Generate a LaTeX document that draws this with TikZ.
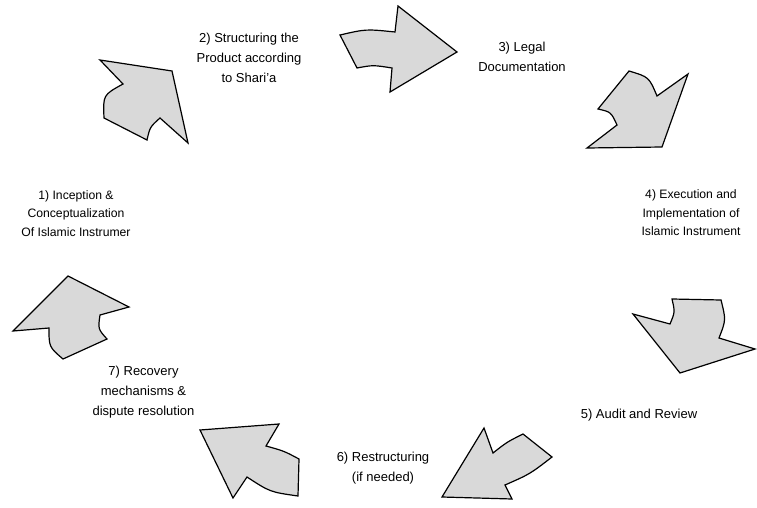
\documentclass[tikz,border=0pt]{standalone}
\usepackage{fontspec}
\setmainfont{Liberation Sans}
\definecolor{arrfill}{HTML}{D9D9D9}
\begin{document}
\begin{tikzpicture}[x=1pt,y=-1pt,
  arr/.style={draw=black, line width=1.2pt, fill=arrfill, line join=miter},
  lbl/.style={align=center, inner sep=0pt, font=\fontsize{13}{20}\selectfont},
  lblsmall/.style={align=center, inner sep=0pt, font=\fontsize{12.2}{18.5}\selectfont}]
\useasboundingbox (0,0) rectangle (757,508);
% arrow 1 (upper left)
\draw[arr] (100,60) -- (172,71) -- (188,143) -- (160,118) .. controls (150,127) .. (147,140)
  -- (104,118) .. controls (103,95) .. (123,84) -- cycle;
% arrow 2 (top)
\draw[arr] (340,35) .. controls (366,29) .. (395,32) -- (398,6) -- (457,52) -- (390,92)
  -- (392,68) .. controls (373,65) .. (357,68) -- cycle;
% arrow 3 (upper right)
\draw[arr] (629,71) .. controls (649,77) .. (657,96) -- (688,74) -- (662,147) -- (587,148)
  -- (617,125) .. controls (611,112) .. (598,109) -- cycle;
% arrow 4 (right)
\draw[arr] (672,299) -- (721,300) .. controls (726,320) .. (719,338) -- (755,349) -- (680,373)
  -- (633,314) -- (670,324) .. controls (675,312) .. (672,299) -- cycle;
% arrow 5 (lower right)
\draw[arr] (484,428) -- (493,453) .. controls (507,442) .. (523,434) -- (552,457)
  .. controls (530,474) .. (505,485) -- (512,499) -- (442,497) -- cycle;
% arrow 6 (bottom left)
\draw[arr] (200,430) -- (279,424) -- (266,446) .. controls (284,451) .. (299,459) -- (298,496)
  .. controls (270,492) .. (247,477) -- (233,498) -- cycle;
% arrow 7 (left)
\draw[arr] (68,276) -- (129,307) -- (100,315) .. controls (98,329) .. (107,339) -- (63,359)
  .. controls (49,347) .. (49,328) -- (13,331) -- cycle;
% labels
\node[lblsmall] (t1) at (76,213.5) {1) Inception \&\\Conceptualization\\Of Islamic Instrumer};
\node[lbl] (t2) at (249,58) {2) Structuring the\\Product according\\to Shari’a};
\node[lbl] (t3) at (522,57) {3) Legal\\Documentation};
\node[lblsmall] (t4) at (691,213) {4) Execution and\\Implementation of\\Islamic Instrument};
\node[lbl] (t5) at (639,415) {5) Audit and Review};
\node[lbl] (t6) at (383,468) {6) Restructuring\\(if needed)};
\node[lbl] (t7) at (143.5,392) {7) Recovery\\mechanisms \&\\dispute resolution};
\end{tikzpicture}
\end{document}
